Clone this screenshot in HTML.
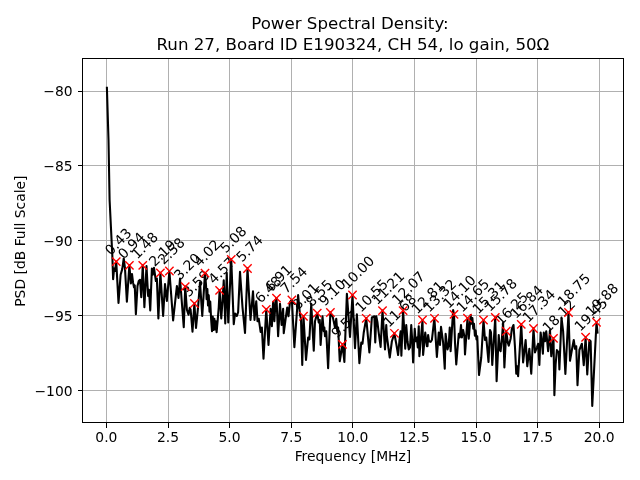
<!DOCTYPE html>
<html lang="en"><head><meta charset="utf-8"><title>Power Spectral Density</title>
<style>html,body{margin:0;padding:0;background:#fff}svg{display:block}text{font-family:"DejaVu Sans","Liberation Sans",sans-serif;fill:#000}</style></head><body>
<svg width="640" height="480" viewBox="0 0 640 480">
<rect width="640" height="480" fill="#fff"/>
<path d="M106.5 58.5V422.5M168.5 58.5V422.5M229.5 58.5V422.5M291.5 58.5V422.5M352.5 58.5V422.5M414.5 58.5V422.5M476.5 58.5V422.5M537.5 58.5V422.5M599.5 58.5V422.5M82.5 390.5H623.5M82.5 315.5H623.5M82.5 240.5H623.5M82.5 165.5H623.5M82.5 91.5H623.5" stroke="#b0b0b0" stroke-width="1" fill="none" shape-rendering="crispEdges"/>
<clipPath id="c"><rect x="82.5" y="58.5" width="541.0" height="364.0"/></clipPath>
<polyline clip-path="url(#c)" points="106.90,87.80 108.50,140.00 109.60,200.00 112.30,255.00 113.12,279.12 114.12,268.50 115.00,271.00 116.25,261.62 118.50,302.88 120.62,274.75 122.25,269.12 123.75,258.50 125.00,268.50 126.88,301.62 129.38,265.38 130.88,283.50 132.00,274.12 133.12,282.88 134.00,287.25 134.75,285.38 135.88,314.12 137.50,286.00 138.75,281.00 140.00,279.75 141.25,297.25 142.75,265.38 144.38,307.25 146.50,266.00 148.12,296.00 149.00,289.75 150.25,310.38 151.88,268.50 152.75,274.75 154.00,267.88 155.88,281.00 156.88,278.50 158.38,318.50 160.38,272.88 163.12,316.00 165.00,284.12 166.88,301.00 169.38,271.00 173.12,320.38 176.88,286.00 178.50,297.88 180.00,278.50 183.75,327.25 185.25,286.62 186.88,309.75 188.50,314.75 189.75,307.88 190.62,309.75 192.50,331.62 194.38,303.50 196.00,327.88 198.12,306.62 200.00,282.25 202.25,316.00 205.00,273.12 206.00,284.75 206.62,299.12 207.38,289.12 208.00,305.38 208.75,295.38 209.50,311.62 210.25,301.62 211.12,319.12 212.00,331.25 212.75,316.62 213.50,330.00 214.38,318.75 215.12,329.50 215.88,321.25 216.62,332.25 217.88,317.88 218.75,307.25 219.62,290.38 221.25,318.50 222.50,301.00 223.75,280.38 225.25,323.50 226.75,272.88 228.25,322.50 231.25,259.38 233.75,324.12 235.00,313.50 236.88,316.00 238.12,312.25 240.00,271.88 242.50,307.25 245.00,332.88 247.50,268.50 250.50,320.00 253.00,291.25 254.50,320.00 256.25,301.25 257.50,321.25 258.75,318.75 260.62,331.88 261.88,327.50 263.50,358.75 266.25,309.38 268.50,345.00 270.62,308.75 271.88,326.25 273.12,301.88 274.38,321.25 275.62,300.00 276.50,298.12 278.12,336.25 280.00,303.75 281.62,325.00 283.12,308.75 283.75,333.12 285.62,318.75 287.25,307.50 288.50,316.25 290.00,301.88 291.88,300.00 294.38,347.25 298.12,295.00 300.00,315.00 301.00,318.75 302.25,365.00 303.50,316.25 306.00,360.00 308.12,337.50 309.38,339.38 311.25,303.75 313.75,350.62 315.00,321.25 317.25,313.12 318.75,322.50 319.75,320.00 320.62,345.00 322.50,316.25 323.75,331.25 324.38,327.50 325.00,336.25 326.25,331.25 328.12,368.12 330.38,312.50 332.75,316.88 335.00,327.50 336.25,318.75 337.25,331.25 338.12,327.50 339.75,361.25 342.50,344.38 344.38,361.88 346.88,293.75 350.00,336.88 352.50,295.00 355.00,348.12 356.88,314.38 359.38,363.12 361.25,342.50 362.50,343.75 363.75,332.50 366.25,318.12 369.38,352.50 371.88,317.50 373.12,316.88 374.38,316.25 375.25,342.50 376.25,316.25 377.50,322.50 378.50,331.25 380.62,346.88 382.50,310.62 385.00,349.38 386.25,325.00 386.88,336.25 389.75,357.50 391.88,341.25 394.38,333.50 396.25,343.75 398.12,355.00 399.38,341.25 400.62,331.25 401.38,355.62 403.12,310.62 405.25,348.75 406.25,325.00 407.50,341.25 408.75,349.38 410.00,347.50 411.25,325.00 412.25,341.25 413.12,362.50 414.75,328.75 415.62,341.25 416.88,337.50 417.75,347.50 418.75,326.25 419.38,356.25 422.50,320.00 423.12,355.00 425.25,332.50 426.88,346.25 427.50,346.25 428.12,335.00 429.00,341.25 430.62,341.88 431.88,340.00 434.38,318.12 436.88,356.88 438.75,332.50 440.00,345.00 441.00,326.88 443.12,342.50 444.75,368.75 445.62,333.75 447.50,349.38 448.75,345.00 449.75,327.50 450.62,351.25 453.12,310.00 454.00,314.38 455.00,342.50 456.25,364.38 458.75,333.75 459.75,337.50 461.00,325.00 461.88,337.50 463.12,330.00 464.38,336.25 465.00,354.38 467.50,318.12 468.75,338.75 470.62,315.00 471.62,323.75 472.38,318.12 473.25,328.75 474.00,323.75 474.88,335.62 475.62,330.62 476.50,339.38 477.25,336.25 479.00,375.00 481.25,357.50 483.50,320.00 485.00,340.00 486.25,337.50 488.50,361.88 490.00,330.00 491.00,332.50 492.25,365.00 495.25,317.50 496.62,381.25 498.75,335.00 499.75,350.00 500.62,351.25 501.88,338.75 503.12,322.50 504.38,367.50 506.25,331.25 507.75,342.50 508.75,345.62 510.62,338.75 511.88,328.75 513.50,325.00 515.00,347.50 516.25,373.75 517.25,366.25 518.12,376.25 521.25,324.38 523.12,362.50 525.62,340.00 527.25,366.25 529.38,348.75 531.25,373.75 533.50,328.50 535.00,352.50 536.88,347.50 538.12,343.75 539.38,365.00 540.62,332.50 541.88,342.50 542.88,353.75 543.75,332.50 545.00,341.25 546.25,331.25 548.12,351.25 550.00,330.00 551.25,356.25 553.50,338.50 554.38,395.12 555.62,364.50 556.88,350.00 558.75,352.50 559.38,369.50 561.50,317.50 563.12,331.25 565.38,373.88 568.50,312.50 570.00,360.75 571.88,350.00 573.75,340.00 575.00,348.75 576.25,346.25 577.50,385.12 579.38,350.00 581.88,343.75 583.75,365.12 585.62,337.25 587.25,374.50 589.38,340.00 590.62,341.25 592.25,406.00 596.50,322.25 597.50,332.50" fill="none" stroke="#000" stroke-width="2.083" stroke-linejoin="round" stroke-linecap="square"/>
<path d="M106.5 422.5v5M168.5 422.5v5M229.5 422.5v5M291.5 422.5v5M352.5 422.5v5M414.5 422.5v5M476.5 422.5v5M537.5 422.5v5M599.5 422.5v5M82.5 390.5h-5M82.5 315.5h-5M82.5 240.5h-5M82.5 165.5h-5M82.5 91.5h-5" stroke="#000" stroke-width="1" fill="none" shape-rendering="crispEdges"/>
<rect x="82.5" y="58.5" width="541.0" height="364.0" fill="none" stroke="#000" stroke-width="1" shape-rendering="crispEdges"/>
<g style="filter:grayscale(1)">
<text x="106.40" y="442.00" font-size="13.89" text-anchor="middle">0.0</text>
<text x="168.00" y="442.00" font-size="13.89" text-anchor="middle">2.5</text>
<text x="229.60" y="442.00" font-size="13.89" text-anchor="middle">5.0</text>
<text x="291.20" y="442.00" font-size="13.89" text-anchor="middle">7.5</text>
<text x="352.80" y="442.00" font-size="13.89" text-anchor="middle">10.0</text>
<text x="414.40" y="442.00" font-size="13.89" text-anchor="middle">12.5</text>
<text x="476.00" y="442.00" font-size="13.89" text-anchor="middle">15.0</text>
<text x="537.61" y="442.00" font-size="13.89" text-anchor="middle">17.5</text>
<text x="599.21" y="442.00" font-size="13.89" text-anchor="middle">20.0</text>
<text x="352.94" y="461.00" font-size="13.89" text-anchor="middle">Frequency [MHz]</text>
<text x="72.56" y="395.50" font-size="13.89" text-anchor="end">−100</text>
<text x="72.56" y="320.72" font-size="13.89" text-anchor="end">−95</text>
<text x="72.56" y="245.94" font-size="13.89" text-anchor="end">−90</text>
<text x="72.56" y="171.16" font-size="13.89" text-anchor="end">−85</text>
<text x="72.56" y="96.37" font-size="13.89" text-anchor="end">−80</text>
<text x="25.06" y="241.13" font-size="13.89" text-anchor="middle" transform="rotate(-90 25.06 241.13)">PSD [dB Full Scale]</text>
<text x="110.69" y="255.96" font-size="13.89" text-anchor="start" transform="rotate(-45 110.69 255.96)">0.43</text>
<text x="123.84" y="259.76" font-size="13.89" text-anchor="start" transform="rotate(-45 123.84 259.76)">0.94</text>
<text x="137.19" y="259.76" font-size="13.89" text-anchor="start" transform="rotate(-45 137.19 259.76)">1.48</text>
<text x="154.84" y="267.26" font-size="13.89" text-anchor="start" transform="rotate(-45 154.84 267.26)">2.19</text>
<text x="163.84" y="265.36" font-size="13.89" text-anchor="start" transform="rotate(-45 163.84 265.36)">2.58</text>
<text x="179.69" y="280.96" font-size="13.89" text-anchor="start" transform="rotate(-45 179.69 280.96)">3.20</text>
<text x="188.84" y="297.86" font-size="13.89" text-anchor="start" transform="rotate(-45 188.84 297.86)">3.59</text>
<text x="199.44" y="267.46" font-size="13.89" text-anchor="start" transform="rotate(-45 199.44 267.46)">4.02</text>
<text x="214.04" y="284.76" font-size="13.89" text-anchor="start" transform="rotate(-45 214.04 284.76)">4.57</text>
<text x="225.69" y="253.76" font-size="13.89" text-anchor="start" transform="rotate(-45 225.69 253.76)">5.08</text>
<text x="241.94" y="262.86" font-size="13.89" text-anchor="start" transform="rotate(-45 241.94 262.86)">5.74</text>
<text x="260.69" y="303.76" font-size="13.89" text-anchor="start" transform="rotate(-45 260.69 303.76)">6.48</text>
<text x="270.94" y="292.46" font-size="13.89" text-anchor="start" transform="rotate(-45 270.94 292.46)">6.91</text>
<text x="286.34" y="294.36" font-size="13.89" text-anchor="start" transform="rotate(-45 286.34 294.36)">7.54</text>
<text x="297.94" y="310.61" font-size="13.89" text-anchor="start" transform="rotate(-45 297.94 310.61)">8.01</text>
<text x="311.69" y="307.46" font-size="13.89" text-anchor="start" transform="rotate(-45 311.69 307.46)">8.55</text>
<text x="324.84" y="306.86" font-size="13.89" text-anchor="start" transform="rotate(-45 324.84 306.86)">9.10</text>
<text x="336.94" y="338.76" font-size="13.89" text-anchor="start" transform="rotate(-45 336.94 338.76)">9.57</text>
<text x="347.19" y="289.80" font-size="13.89" text-anchor="start" transform="rotate(-45 347.19 289.80)">10.00</text>
<text x="360.94" y="313.10" font-size="13.89" text-anchor="start" transform="rotate(-45 360.94 313.10)">10.55</text>
<text x="377.19" y="305.40" font-size="13.89" text-anchor="start" transform="rotate(-45 377.19 305.40)">11.21</text>
<text x="389.09" y="328.10" font-size="13.89" text-anchor="start" transform="rotate(-45 389.09 328.10)">11.68</text>
<text x="397.79" y="305.40" font-size="13.89" text-anchor="start" transform="rotate(-45 397.79 305.40)">12.07</text>
<text x="417.19" y="314.80" font-size="13.89" text-anchor="start" transform="rotate(-45 417.19 314.80)">12.81</text>
<text x="429.19" y="313.10" font-size="13.89" text-anchor="start" transform="rotate(-45 429.19 313.10)">13.32</text>
<text x="448.69" y="309.20" font-size="13.89" text-anchor="start" transform="rotate(-45 448.69 309.20)">14.10</text>
<text x="462.19" y="312.90" font-size="13.89" text-anchor="start" transform="rotate(-45 462.19 312.90)">14.65</text>
<text x="478.19" y="314.80" font-size="13.89" text-anchor="start" transform="rotate(-45 478.19 314.80)">15.31</text>
<text x="489.99" y="312.30" font-size="13.89" text-anchor="start" transform="rotate(-45 489.99 312.30)">15.78</text>
<text x="500.94" y="326.05" font-size="13.89" text-anchor="start" transform="rotate(-45 500.94 326.05)">16.25</text>
<text x="515.94" y="319.20" font-size="13.89" text-anchor="start" transform="rotate(-45 515.94 319.20)">16.84</text>
<text x="528.19" y="323.30" font-size="13.89" text-anchor="start" transform="rotate(-45 528.19 323.30)">17.34</text>
<text x="548.19" y="333.20" font-size="13.89" text-anchor="start" transform="rotate(-45 548.19 333.20)">18.12</text>
<text x="563.19" y="307.30" font-size="13.89" text-anchor="start" transform="rotate(-45 563.19 307.30)">18.75</text>
<text x="580.29" y="332.05" font-size="13.89" text-anchor="start" transform="rotate(-45 580.29 332.05)">19.45</text>
<text x="591.19" y="317.05" font-size="13.89" text-anchor="start" transform="rotate(-45 591.19 317.05)">19.88</text>
<text x="349.94" y="28.74" font-size="16.67" text-anchor="middle">Power Spectral Density:</text>
<text x="352.94" y="49.80" font-size="16.67" text-anchor="middle">Run 27, Board ID E190324, CH 54, lo gain, 50Ω</text>
</g>
<path clip-path="url(#c)" d="M112.08 257.43l8.34 8.34M112.08 265.77l8.34 -8.34M125.23 261.23l8.34 8.34M125.23 269.57l8.34 -8.34M138.58 261.23l8.34 8.34M138.58 269.57l8.34 -8.34M156.23 268.73l8.34 8.34M156.23 277.07l8.34 -8.34M165.23 266.83l8.34 8.34M165.23 275.17l8.34 -8.34M181.08 282.43l8.34 8.34M181.08 290.77l8.34 -8.34M190.23 299.33l8.34 8.34M190.23 307.67l8.34 -8.34M200.83 268.93l8.34 8.34M200.83 277.27l8.34 -8.34M215.43 286.23l8.34 8.34M215.43 294.57l8.34 -8.34M227.08 255.23l8.34 8.34M227.08 263.57l8.34 -8.34M243.33 264.33l8.34 8.34M243.33 272.67l8.34 -8.34M262.08 305.23l8.34 8.34M262.08 313.57l8.34 -8.34M272.33 293.93l8.34 8.34M272.33 302.27l8.34 -8.34M287.73 295.83l8.34 8.34M287.73 304.17l8.34 -8.34M299.33 312.08l8.34 8.34M299.33 320.42l8.34 -8.34M313.08 308.93l8.34 8.34M313.08 317.27l8.34 -8.34M326.23 308.33l8.34 8.34M326.23 316.67l8.34 -8.34M338.33 340.23l8.34 8.34M338.33 348.57l8.34 -8.34M348.33 290.83l8.34 8.34M348.33 299.17l8.34 -8.34M362.08 314.13l8.34 8.34M362.08 322.47l8.34 -8.34M378.33 306.43l8.34 8.34M378.33 314.77l8.34 -8.34M390.23 329.13l8.34 8.34M390.23 337.47l8.34 -8.34M398.93 306.43l8.34 8.34M398.93 314.77l8.34 -8.34M418.33 315.83l8.34 8.34M418.33 324.17l8.34 -8.34M430.33 314.13l8.34 8.34M430.33 322.47l8.34 -8.34M449.83 310.23l8.34 8.34M449.83 318.57l8.34 -8.34M463.33 313.93l8.34 8.34M463.33 322.27l8.34 -8.34M479.33 315.83l8.34 8.34M479.33 324.17l8.34 -8.34M491.13 313.33l8.34 8.34M491.13 321.67l8.34 -8.34M502.08 327.08l8.34 8.34M502.08 335.42l8.34 -8.34M517.08 320.23l8.34 8.34M517.08 328.57l8.34 -8.34M529.33 324.33l8.34 8.34M529.33 332.67l8.34 -8.34M549.33 334.23l8.34 8.34M549.33 342.57l8.34 -8.34M564.33 308.33l8.34 8.34M564.33 316.67l8.34 -8.34M581.43 333.08l8.34 8.34M581.43 341.42l8.34 -8.34M592.33 318.08l8.34 8.34M592.33 326.42l8.34 -8.34" stroke="#f00" stroke-width="1.39" fill="none"/>
</svg></body></html>
